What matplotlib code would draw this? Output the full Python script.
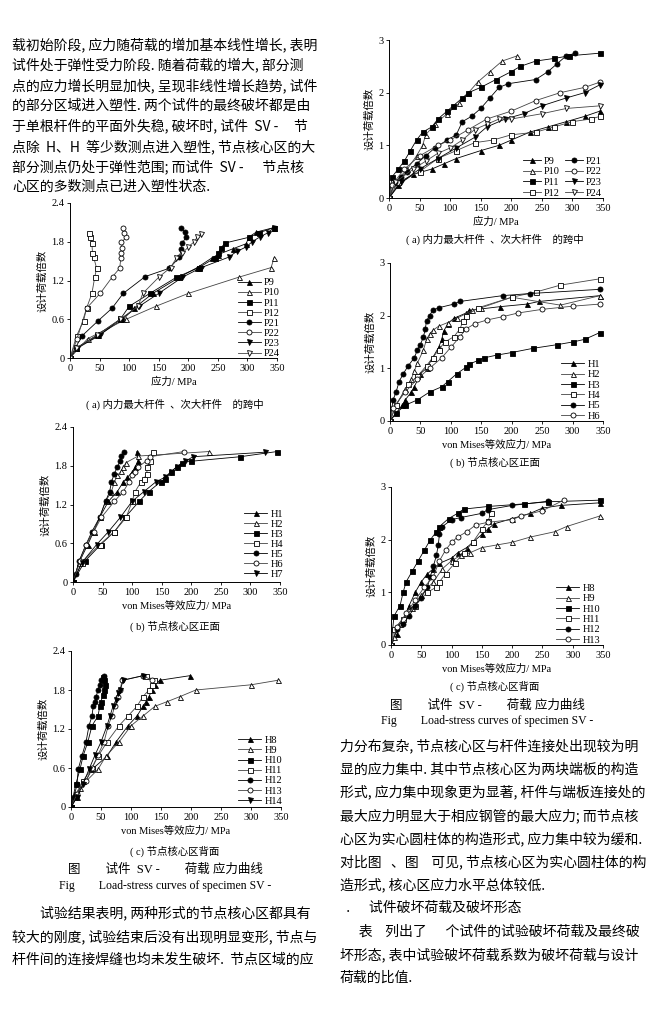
import numpy as np
import matplotlib
matplotlib.use('Agg')
import matplotlib.pyplot as plt

plt.rcParams['font.family'] = ['Liberation Serif', 'Noto Sans CJK SC']
plt.rcParams['axes.linewidth'] = 0.7

CJK = ['Noto Sans CJK SC', 'DejaVu Sans']
SER = ['Liberation Serif', 'Noto Sans CJK SC']

# ---------------- data ----------------
# left (a): members, y 0..2.4
a_names = ['P9', 'P10', 'P11', 'P12', 'P21', 'P22', 'P23', 'P24']
a_x = [
    [0, 10, 48, 90, 108, 140, 185, 215, 240, 250, 275, 298, 302, 315, 345],
    [0, 30, 95, 145, 200, 285, 340, 345],
    [0, 10, 45, 85, 100, 135, 180, 218, 245, 250, 255, 262, 303, 320, 345],
    [0, 11, 23, 28, 37, 42, 45, 40, 38, 37, 34, 32],
    [0, 20, 48, 71, 90, 127, 168, 185, 188, 190, 196, 194, 188],
    [0, 12, 28, 51, 72, 84, 86, 87, 88, 87, 95, 92, 90],
    [0, 12, 50, 85, 117, 150, 190, 222, 268, 282, 298, 308, 322, 335, 345],
    [0, 10, 45, 85, 115, 123, 150, 170, 180, 190, 200, 210, 215, 222],
]
a_y = [
    [0, 0.15, 0.35, 0.6, 0.77, 1.0, 1.25, 1.4, 1.55, 1.6, 1.69, 1.77, 1.87, 1.95, 2.02],
    [0, 0.3, 0.6, 0.8, 1.0, 1.25, 1.4, 1.55],
    [0, 0.15, 0.35, 0.6, 0.8, 1.0, 1.25, 1.4, 1.55, 1.62, 1.7, 1.78, 1.87, 1.94, 2.02],
    [0, 0.34, 0.58, 0.77, 1.0, 1.26, 1.39, 1.56, 1.63, 1.78, 1.87, 1.94],
    [0, 0.34, 0.58, 0.77, 1.0, 1.26, 1.39, 1.56, 1.69, 1.78, 1.87, 1.95, 2.02],
    [0, 0.3, 0.77, 1.0, 1.26, 1.39, 1.55, 1.63, 1.71, 1.79, 1.87, 1.94, 2.02],
    [0, 0.15, 0.35, 0.6, 0.8, 1.0, 1.25, 1.4, 1.56, 1.65, 1.72, 1.8, 1.88, 1.94, 2.02],
    [0, 0.15, 0.35, 0.6, 0.8, 1.0, 1.25, 1.4, 1.55, 1.62, 1.72, 1.8, 1.87, 1.92],
]

# left (b): core zone front, y 0..2.4
b_names = ['H1', 'H2', 'H3', 'H4', 'H5', 'H6', 'H7']
b_x = [
    [0, 10, 25, 35, 45, 60, 75, 85, 92, 100, 105, 110, 108],
    [0, 10, 22, 35, 45, 55, 65, 70, 75, 82, 85, 90, 110, 230],
    [0, 20, 47, 70, 88, 112, 128, 148, 155, 165, 175, 185, 200, 283, 345],
    [0, 15, 45, 70, 90, 100, 105, 115, 120, 125, 125, 130, 135],
    [0, 5, 10, 22, 32, 45, 55, 62, 65, 70, 75, 80, 82, 87],
    [0, 12, 22, 35, 48, 70, 85, 95, 100, 105, 110, 125, 130, 188],
    [0, 15, 40, 60, 80, 100, 120, 140, 155, 165, 175, 190, 203, 325],
]
b_y = [
    [0, 0.3, 0.58, 0.78, 1.0, 1.25, 1.4, 1.55, 1.62, 1.7, 1.78, 1.88, 2.02],
    [0, 0.3, 0.58, 0.78, 1.0, 1.25, 1.4, 1.55, 1.65, 1.72, 1.78, 1.85, 1.95, 2.02],
    [0, 0.32, 0.58, 0.78, 1.0, 1.25, 1.4, 1.55, 1.6, 1.7, 1.78, 1.85, 1.87, 1.94, 2.02],
    [0, 0.3, 0.58, 0.78, 1.0, 1.25, 1.4, 1.55, 1.6, 1.68, 1.78, 1.88, 2.02],
    [0, 0.13, 0.32, 0.58, 0.78, 1.0, 1.25, 1.4, 1.55, 1.68, 1.78, 1.88, 1.95, 2.02],
    [0, 0.32, 0.58, 0.78, 1.0, 1.25, 1.4, 1.55, 1.65, 1.7, 1.78, 1.88, 1.94, 2.02],
    [0, 0.3, 0.58, 0.78, 1.0, 1.25, 1.4, 1.55, 1.62, 1.7, 1.78, 1.87, 1.94, 2.01],
]

# left (c): core zone back, y 0..2.4
c_names = ['H8', 'H9', 'H10', 'H11', 'H12', 'H13', 'H14']
c_x = [
    [0, 10, 35, 60, 75, 95, 110, 120, 125, 130, 135, 140, 148, 198],
    [0, 15, 45, 58, 80, 100, 120, 140, 160, 182, 208, 300, 345],
    [0, 8, 15, 20, 28, 35, 45, 48, 50, 53, 55, 57, 55, 53],
    [0, 8, 20, 35, 45, 60, 80, 95, 110, 120, 130, 135, 138, 125],
    [0, 5, 10, 12, 18, 25, 30, 35, 37, 40, 42, 45, 48, 50, 55],
    [0, 10, 25, 35, 45, 55, 62, 68, 73, 78, 82, 85, 120, 135],
    [0, 10, 20, 30, 40, 50, 60, 65, 70, 75, 78, 82, 87, 120],
]
c_y = [
    [0, 0.15, 0.58, 0.78, 1.0, 1.25, 1.4, 1.55, 1.62, 1.7, 1.8, 1.88, 1.95, 2.02],
    [0, 0.3, 0.58, 0.78, 1.0, 1.25, 1.4, 1.55, 1.62, 1.7, 1.8, 1.88, 1.95],
    [0, 0.35, 0.58, 0.78, 1.0, 1.25, 1.4, 1.55, 1.62, 1.72, 1.8, 1.88, 1.95, 2.0],
    [0, 0.2, 0.4, 0.6, 0.78, 1.0, 1.25, 1.4, 1.55, 1.7, 1.8, 1.88, 1.95, 2.02],
    [0, 0.15, 0.35, 0.58, 0.78, 1.0, 1.25, 1.4, 1.55, 1.62, 1.7, 1.8, 1.88, 1.95, 2.02],
    [0, 0.2, 0.4, 0.6, 0.8, 1.0, 1.25, 1.4, 1.55, 1.7, 1.8, 1.95, 2.02, 1.95],
    [0, 0.15, 0.35, 0.58, 0.8, 1.0, 1.25, 1.4, 1.55, 1.65, 1.75, 1.8, 1.95, 2.02],
]

# right (a): members, y 0..3
d_names = ['P9', 'P10', 'P11', 'P12', 'P21', 'P22', 'P23', 'P24']
d_x = [
    [0, 15, 40, 70, 90, 110, 150, 180, 200, 230, 260, 290, 320, 345],
    [0, 10, 30, 45, 55, 60, 75, 95, 115, 130, 145, 165, 185, 210],
    [0, 5, 15, 25, 35, 45, 55, 70, 80, 95, 105, 120, 130, 150, 175, 200, 215, 240, 270, 295, 345],
    [0, 15, 50, 80, 110, 140, 170, 200, 240, 270, 300, 330, 345],
    [0, 10, 20, 30, 45, 60, 75, 95, 110, 120, 135, 150, 165, 180, 195, 240, 260, 275, 290, 305],
    [0, 5, 25, 50, 80, 100, 130, 160, 200, 240, 280, 320, 345],
    [0, 20, 50, 80, 110, 140, 160, 190, 220, 250, 290, 320, 345],
    [0, 10, 40, 60, 80, 100, 120, 140, 160, 180, 200, 250, 290, 345],
]
d_y = [
    [0, 0.25, 0.45, 0.55, 0.65, 0.75, 0.9, 1.0, 1.1, 1.25, 1.35, 1.45, 1.55, 1.65],
    [0, 0.3, 0.55, 0.8, 1.0, 1.2, 1.4, 1.6, 1.8, 2.0, 2.2, 2.4, 2.6, 2.7],
    [0, 0.4, 0.55, 0.7, 0.9, 1.1, 1.25, 1.35, 1.5, 1.65, 1.75, 1.9, 2.0, 2.1, 2.25, 2.4, 2.5, 2.6, 2.65, 2.7, 2.75],
    [0, 0.3, 0.5, 0.75, 0.9, 1.05, 1.1, 1.2, 1.25, 1.35, 1.45, 1.5, 1.55],
    [0, 0.3, 0.4, 0.5, 0.65, 0.8, 0.95, 1.1, 1.2, 1.45, 1.55, 1.7, 1.9, 2.1, 2.17, 2.25, 2.4, 2.55, 2.7, 2.75],
    [0, 0.25, 0.55, 0.8, 1.0, 1.1, 1.3, 1.5, 1.65, 1.85, 2.0, 2.1, 2.2],
    [0, 0.3, 0.55, 0.75, 0.95, 1.15, 1.35, 1.5, 1.6, 1.75, 1.9, 2.0, 2.15],
    [0, 0.3, 0.55, 0.7, 0.85, 0.95, 1.1, 1.3, 1.4, 1.5, 1.5, 1.6, 1.7, 1.75],
]

# right (b): core zone front, y 0..3
e_names = ['H1', 'H2', 'H3', 'H4', 'H5', 'H6']
e_x = [
    [0, 20, 25, 35, 40, 50, 60, 70, 80, 85, 88, 95, 105, 125, 130, 180, 225, 245, 345],
    [0, 10, 25, 35, 40, 45, 55, 60, 65, 70, 80, 95, 110, 135, 150, 200, 280, 345],
    [0, 10, 25, 45, 65, 85, 95, 110, 125, 130, 145, 155, 175, 200, 235, 275, 300, 320, 345],
    [0, 10, 30, 45, 60, 70, 80, 90, 105, 115, 120, 125, 145, 200, 240, 280, 345],
    [0, 5, 10, 15, 22, 30, 40, 45, 50, 55, 58, 60, 65, 70, 80, 105, 115, 185, 230, 345],
    [0, 5, 25, 45, 65, 85, 100, 115, 125, 140, 160, 185, 210, 250, 300, 345],
]
e_y = [
    [0, 0.3, 0.4, 0.55, 0.65, 0.9, 1.0, 1.2, 1.4, 1.55, 1.7, 1.85, 1.95, 2.05, 2.1, 2.17, 2.22, 2.27, 2.38],
    [0, 0.3, 0.6, 0.8, 0.95, 1.1, 1.35, 1.55, 1.65, 1.72, 1.8, 1.87, 1.95, 2.1, 2.15, 2.35, 2.2, 2.38],
    [0, 0.15, 0.3, 0.4, 0.55, 0.65, 0.75, 0.9, 1.02, 1.08, 1.15, 1.2, 1.25, 1.3, 1.38, 1.45, 1.5, 1.55, 1.68],
    [0, 0.3, 0.7, 0.85, 1.05, 1.2, 1.35, 1.5, 1.6, 1.75, 1.9, 2.0, 2.15, 2.35, 2.45, 2.58, 2.7],
    [0, 0.4, 0.55, 0.75, 0.9, 1.05, 1.2, 1.35, 1.45, 1.6, 1.75, 1.9, 2.0, 2.1, 2.15, 2.22, 2.27, 2.38, 2.42, 2.5],
    [0, 0.25, 0.55, 0.8, 1.0, 1.2, 1.4, 1.6, 1.75, 1.85, 1.92, 1.98, 2.05, 2.12, 2.18, 2.22],
]

# right (c): core zone back, y 0..3
f_names = ['H8', 'H9', 'H10', 'H11', 'H12', 'H13']
f_x = [
    [0, 10, 30, 40, 50, 60, 70, 80, 100, 110, 125, 135, 150, 160, 170, 200, 230, 250, 280, 345],
    [0, 5, 15, 35, 50, 70, 85, 100, 115, 130, 150, 175, 200, 230, 270, 290, 345],
    [0, 5, 15, 20, 25, 35, 45, 55, 65, 75, 80, 95, 110, 120, 160, 220, 260, 345],
    [0, 5, 20, 40, 60, 75, 80, 90, 105, 120, 135, 150, 160, 165],
    [0, 10, 20, 30, 40, 50, 60, 65, 70, 75, 78, 80, 85, 100, 115, 150, 160, 200, 260],
    [0, 10, 25, 40, 55, 70, 80, 90, 100, 110, 125, 140, 160, 200, 215, 250, 285],
]
f_y = [
    [0, 0.2, 0.75, 1.0, 1.2, 1.35, 1.45, 1.55, 1.65, 1.75, 1.85, 1.95, 2.1, 2.2, 2.3, 2.4, 2.5, 2.6, 2.65, 2.7],
    [0, 0.15, 0.4, 0.7, 0.95, 1.2, 1.45, 1.6, 1.7, 1.75, 1.85, 1.9, 1.95, 2.05, 2.15, 2.25, 2.45],
    [0, 0.55, 0.75, 1.0, 1.2, 1.4, 1.6, 1.8, 2.0, 2.15, 2.25, 2.4, 2.5, 2.58, 2.63, 2.68, 2.72, 2.75],
    [0, 0.3, 0.5, 0.75, 1.0, 1.1, 1.2, 1.35, 1.55, 1.75, 1.95, 2.2, 2.35, 2.5],
    [0, 0.3, 0.4, 0.55, 0.75, 0.9, 1.1, 1.3, 1.5, 1.7, 1.9, 2.1, 2.25, 2.38, 2.42, 2.5, 2.57, 2.65, 2.73],
    [0, 0.35, 0.6, 0.85, 1.1, 1.3, 1.6, 1.8, 1.95, 2.05, 2.15, 2.28, 2.33, 2.38, 2.45, 2.55, 2.75],
]

x_ticks = [0, 50, 100, 150, 200, 250, 300, 350]
y_ticks_small = [0, 0.6, 1.2, 1.8, 2.4]
y_ticklabels_small = ['0', '0.6', '1.2', '1.8', '2.4']
y_ticks_big = [0, 1, 2, 3]
y_ticklabels_big = ['0', '1', '2', '3']

# marker per series name
marker_of = {
    'P9': ('^', True), 'P10': ('^', False), 'P11': ('s', True), 'P12': ('s', False),
    'P21': ('o', True), 'P22': ('o', False), 'P23': ('v', True), 'P24': ('v', False),
    'H1': ('^', True), 'H2': ('^', False), 'H3': ('s', True), 'H4': ('s', False),
    'H5': ('o', True), 'H6': ('o', False), 'H7': ('v', True),
    'H8': ('^', True), 'H9': ('^', False), 'H10': ('s', True), 'H11': ('s', False),
    'H12': ('o', True), 'H13': ('o', False), 'H14': ('v', True),
}

W, H = 672, 1024
fig = plt.figure(figsize=(W / 100, H / 100), dpi=100)


def px_axes(left, right, bottom, top):
    return fig.add_axes([left / W, 1 - bottom / H, (right - left) / W, (bottom - top) / H])


def draw_panel(box, names, xs, ys, ymax, yticks, yticklabels, xlabel, leg_anchor,
               ncol=1, hlen=2.2, lspace=0.03):
    ax = px_axes(*box)
    for name, x, y in zip(names, xs, ys):
        m, filled = marker_of[name]
        ax.plot(x, y, color='black' if filled else '#444444', lw=0.6,
                marker=m, ms=3.6, mec='black', mew=0.6,
                mfc='black' if filled else 'white', label=name)
    ax.set_xlim(0, 350)
    ax.set_ylim(0, ymax)
    ax.set_xticks(x_ticks)
    ax.set_yticks(yticks)
    ax.set_yticklabels(yticklabels)
    for s in ['top', 'right']:
        ax.spines[s].set_visible(False)
    ax.tick_params(direction='out', length=2.5, width=0.6, labelsize=7.5, pad=1.5)
    for lab in ax.get_xticklabels() + ax.get_yticklabels():
        lab.set_family(SER)
    ax.set_xlabel(xlabel, fontsize=7.5, family=SER, labelpad=3)
    ax.set_ylabel('设计荷载倍数', fontsize=7.5, family=CJK, labelpad=3)
    ax.legend(loc='lower right', bbox_to_anchor=leg_anchor, ncol=ncol, frameon=False,
              prop={'family': SER, 'size': 7.5}, handlelength=hlen, handletextpad=0.3,
              labelspacing=lspace, borderpad=0, columnspacing=0.5)
    return ax


xl_a = '应力/ MPa'
xl_b = 'von Mises等效应力/ MPa'

draw_panel((70, 277, 358, 203), a_names, a_x, a_y, 2.4, y_ticks_small, y_ticklabels_small, xl_a, (1.04, -0.035), lspace=0.08)
draw_panel((73, 280, 582, 427), b_names, b_x, b_y, 2.4, y_ticks_small, y_ticklabels_small, xl_b, (1.04, -0.015), lspace=0.07)
draw_panel((71, 281, 807, 651), c_names, c_x, c_y, 2.4, y_ticks_small, y_ticklabels_small, xl_b, (1.03, -0.025), lspace=0.08)
draw_panel((389, 603, 198, 40), d_names, d_x, d_y, 3, y_ticks_big, y_ticklabels_big, xl_a, (1.02, -0.03),
           ncol=2, hlen=1.7, lspace=0.12)
draw_panel((390, 603, 421, 263), e_names, e_x, e_y, 3, y_ticks_big, y_ticklabels_big, xl_b, (1.01, -0.03), lspace=0.1)
draw_panel((391, 603, 645, 487), f_names, f_x, f_y, 3, y_ticks_big, y_ticklabels_big, xl_b, (1.01, -0.03), lspace=0.1)


def put(x, y, s, size=10, fam=CJK, **kw):
    fig.text(x / W, 1 - y / H, s, fontsize=size, family=fam, va='center', **kw)


# captions
put(175, 404, '( a) 内力最大杆件  、次大杆件    的跨中', 7.5, SER, ha='center')
put(175, 626, '( b) 节点核心区正面', 7.5, SER, ha='center')
put(175, 851, '( c) 节点核心区背面', 7.5, SER, ha='center')
put(165, 870, '图        试件  SV -        荷载 应力曲线', 9, SER, ha='center')
put(165, 886, 'Fig        Load-stress curves of specimen SV -', 8.5, SER, ha='center')

put(495, 239, '( a) 内力最大杆件  、次大杆件    的跨中', 7.5, SER, ha='center')
put(495, 462, '( b) 节点核心区正面', 7.5, SER, ha='center')
put(495, 686, '( c) 节点核心区背面', 7.5, SER, ha='center')
put(487, 706, '图        试件  SV -        荷载 应力曲线', 9, SER, ha='center')
put(487, 721, 'Fig        Load-stress curves of specimen SV -', 8.5, SER, ha='center')

# body text, left column
left_lines = [
    '载初始阶段, 应力随荷载的增加基本线性增长, 表明',
    '试件处于弹性受力阶段. 随着荷载的增大, 部分测',
    '点的应力增长明显加快, 呈现非线性增长趋势, 试件',
    '的部分区域进入塑性. 两个试件的最终破坏都是由',
    '于单根杆件的平面外失稳, 破坏时, 试件  SV -     节',
    '点除  H、H  等少数测点进入塑性, 节点核心区的大',
    '部分测点仍处于弹性范围; 而试件  SV -      节点核',
    '心区的多数测点已进入塑性状态.',
]
for i, s in enumerate(left_lines):
    put(12, 45 + i * 20.3, s, 10)

left_bottom = [
    '试验结果表明, 两种形式的节点核心区都具有',
    '较大的刚度, 试验结束后没有出现明显变形, 节点与',
    '杆件间的连接焊缝也均未发生破坏.  节点区域的应',
]
left_bottom_x = [40, 12, 12]
for i, s in enumerate(left_bottom):
    put(left_bottom_x[i], 913 + i * 23.5, s, 10)

right_bottom = [
    '力分布复杂, 节点核心区与杆件连接处出现较为明',
    '显的应力集中. 其中节点核心区为两块端板的构造',
    '形式, 应力集中现象更为显著, 杆件与端板连接处的',
    '最大应力明显大于相应钢管的最大应力; 而节点核',
    '心区为实心圆柱体的构造形式, 应力集中较为缓和.',
    '对比图   、图    可见, 节点核心区为实心圆柱体的构',
    '造形式, 核心区应力水平总体较低.',
    '  .      试件破坏荷载及破坏形态',
    '      表    列出了      个试件的试验破坏荷载及最终破',
    '坏形态, 表中试验破坏荷载系数为破坏荷载与设计',
    '荷载的比值.',
]
for i, s in enumerate(right_bottom):
    put(340, 746 + i * 23.2, s, 10)

fig.savefig('out.png', dpi=100)
